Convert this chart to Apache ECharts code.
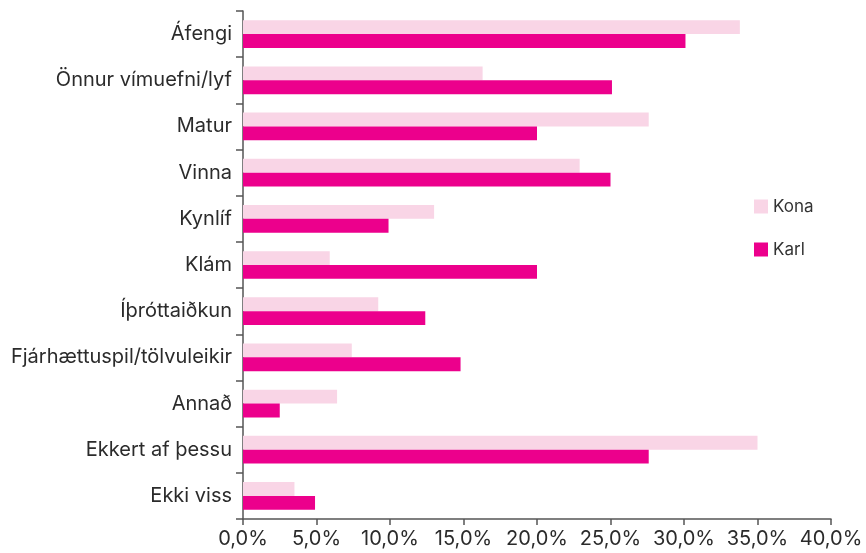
<!DOCTYPE html>
<html>
<head>
<meta charset="utf-8">
<title>chart</title>
<script src="https://cdn.jsdelivr.net/npm/echarts@6/dist/echarts.min.js"></script>
<style>
  html, body { margin: 0; padding: 0; background: #fff; }
  #main { width: 866px; height: 553px; }
</style>
</head>
<body>
<div id="main"></div>
<script type="text/javascript">
// flokkar (efst til neðst)
var categories = ['Áfengi', 'Önnur vímuefni/lyf', 'Matur', 'Vinna', 'Kynlíf', 'Klám',
  'Íþróttaiðkun', 'Fjárhættuspil/tölvuleikir', 'Annað', 'Ekkert af þessu', 'Ekki viss'];
var kona = [33.8, 16.3, 27.6, 22.9, 13.0, 5.9, 9.2, 7.4, 6.4, 35.0, 3.5];
var karl = [30.1, 25.1, 20.0, 25.0, 9.9, 20.0, 12.4, 14.8, 2.5, 27.6, 4.9];
var xTicks = [0, 5, 10, 15, 20, 25, 30, 35, 40];

var myChart = echarts.init(document.getElementById('main'));
var font = 'Inter, "Noto Sans", sans-serif';

var option = {
  animation: false,
  textStyle: { fontFamily: font },
  grid: { left: 243, right: 35, top: 11, bottom: 34, containLabel: false },
  legend: {
    orient: 'vertical',
    left: 754,
    top: 198,
    padding: 0,
    itemWidth: 14,
    itemHeight: 14,
    itemGap: 26,
    icon: 'rect',
    data: ['Kona', 'Karl'],
    textStyle: { fontSize: 17, color: '#333', fontFamily: font }
  },
  xAxis: {
    type: 'value',
    min: xTicks[0],
    max: xTicks[xTicks.length - 1],
    interval: 5,
    axisLine: { show: true, lineStyle: { color: '#555', width: 1.5 } },
    axisTick: { show: true, length: 6, lineStyle: { color: '#555', width: 1.5 } },
    splitLine: { show: false },
    axisLabel: {
      margin: 10,
      fontSize: 20,
      color: '#2b2b2b',
      fontFamily: font,
      formatter: function (v) { return v.toFixed(1).replace('.', ',') + '%'; }
    }
  },
  yAxis: {
    type: 'category',
    data: categories,
    inverse: true,
    axisLine: { show: true, lineStyle: { color: '#555', width: 1.5 } },
    axisTick: { show: true, length: 7, lineStyle: { color: '#555', width: 1.5 } },
    axisLabel: { margin: 11, fontSize: 20, color: '#2b2b2b', fontFamily: font }
  },
  series: [
    {
      name: 'Kona',
      type: 'bar',
      data: kona,
      itemStyle: { color: '#f9d5e6' },
      barGap: '0%',
      barCategoryGap: '40%'
    },
    {
      name: 'Karl',
      type: 'bar',
      data: karl,
      itemStyle: { color: '#ec008c' },
      barGap: '0%',
      barCategoryGap: '40%'
    }
  ]
};

if (option && typeof option === 'object') {
  myChart.setOption(option);
}
</script>
</body>
</html>
